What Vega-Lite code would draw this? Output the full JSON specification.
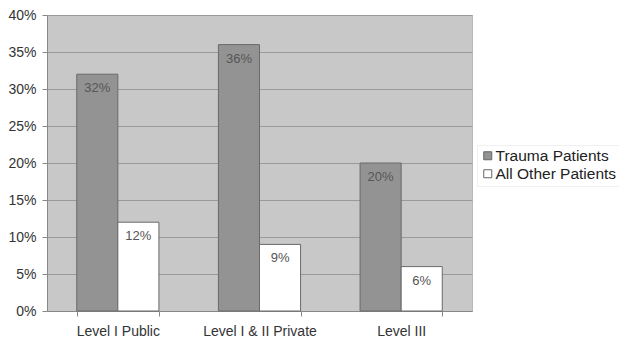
{
  "$schema": "https://vega.github.io/schema/vega-lite/v6.json",
  "autosize": "none",
  "width": 425,
  "height": 296,
  "padding": {"left": 47, "top": 15, "right": 147, "bottom": 31},
  "background": "white",
  "config": {
    "font": "Liberation Sans",
    "view": {"fill": "#c8c8c8", "stroke": "#b8b8b8"}
  },
  "data": {
    "values": [
      {"level": "Level I Public", "group": "Trauma Patients", "value": 0.32, "label": "32%"},
      {"level": "Level I Public", "group": "All Other Patients", "value": 0.12, "label": "12%"},
      {"level": "Level I & II Private", "group": "Trauma Patients", "value": 0.36, "label": "36%"},
      {"level": "Level I & II Private", "group": "All Other Patients", "value": 0.09, "label": "9%"},
      {"level": "Level III", "group": "Trauma Patients", "value": 0.20, "label": "20%"},
      {"level": "Level III", "group": "All Other Patients", "value": 0.06, "label": "6%"}
    ]
  },
  "encoding": {
    "x": {
      "field": "level", "type": "nominal", "sort": null,
      "scale": {"paddingInner": 0.42, "paddingOuter": 0.21},
      "axis": {
        "title": null, "labelAngle": 0, "labelFontSize": 14, "labelColor": "#333",
        "labelPadding": 8, "domainColor": "#888", "tickColor": "#888", "tickSize": 5,
        "tickBand": "extent"
      }
    },
    "xOffset": {"field": "group", "type": "nominal", "sort": ["Trauma Patients", "All Other Patients"]},
    "y": {
      "field": "value", "type": "quantitative",
      "scale": {"domain": [0, 0.4], "nice": false},
      "axis": {
        "title": null, "format": ".0%", "values": [0, 0.05, 0.1, 0.15, 0.2, 0.25, 0.3, 0.35, 0.4],
        "labelOverlap": false,
        "labelFontSize": 14, "labelColor": "#333", "labelPadding": 6,
        "gridColor": "#9a9a9a", "gridOpacity": 1, "domainColor": "#888", "tickColor": "#888", "tickSize": 5
      }
    }
  },
  "layer": [
    {
      "mark": {"type": "bar", "stroke": "#6a6a6a", "strokeWidth": 1},
      "encoding": {
        "color": {
          "field": "group", "type": "nominal",
          "scale": {"domain": ["Trauma Patients", "All Other Patients"], "range": ["#939393", "#ffffff"]},
          "legend": {
            "title": null, "orient": "none", "legendX": 430, "legendY": 130,
            "symbolType": "square", "symbolSize": 64, "symbolStrokeColor": "#666", "symbolStrokeWidth": 1,
            "labelFontSize": 15.5, "labelColor": "#222", "labelOffset": 0, "rowPadding": 1,
            "strokeColor": "#f0f0f0", "padding": 3
          }
        }
      }
    },
    {
      "mark": {"type": "text", "baseline": "middle", "dy": 14, "fontSize": 13, "color": "#555"},
      "encoding": {"text": {"field": "label"}}
    }
  ]
}
